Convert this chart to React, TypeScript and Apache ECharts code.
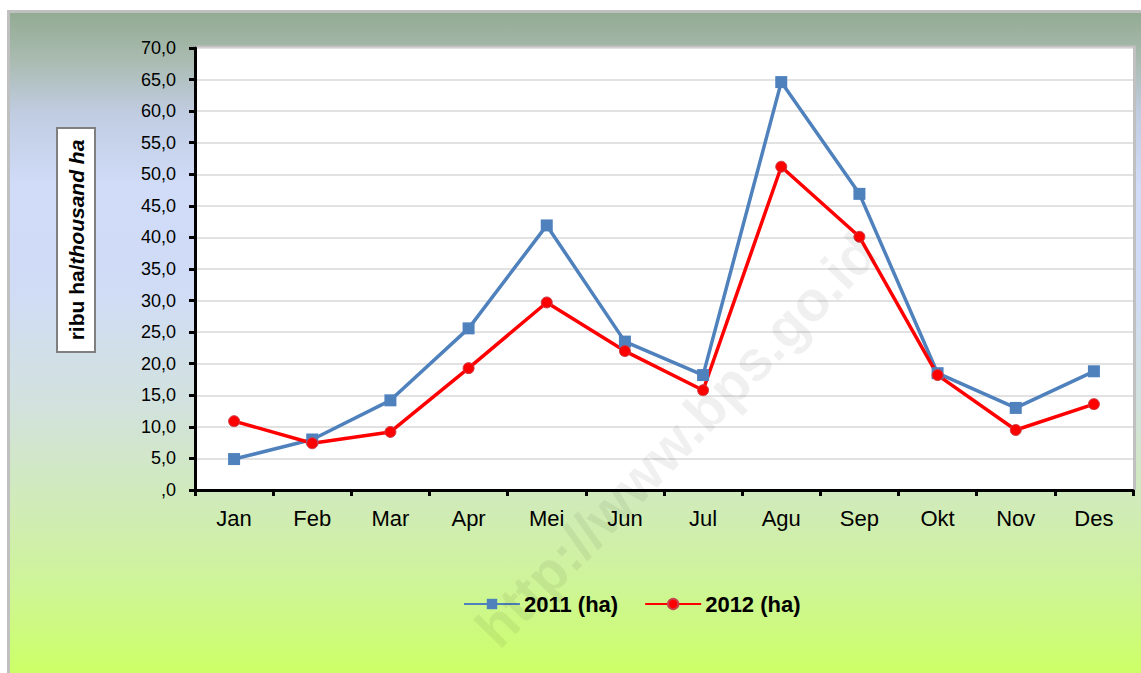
import React, { useEffect, useRef } from "react";
import * as echarts from "echarts";

const categories = ["Jan", "Feb", "Mar", "Apr", "Mei", "Jun", "Jul", "Agu", "Sep", "Okt", "Nov", "Des"];
const series2011 = [4.9, 8.0, 14.2, 25.6, 41.9, 23.5, 18.2, 64.6, 46.9, 18.5, 13.0, 18.8];
const series2012 = [10.9, 7.4, 9.2, 19.3, 29.7, 22.0, 15.8, 51.2, 40.1, 18.2, 9.5, 13.6];
const seriesNames = ["2011 (ha)", "2012 (ha)"];
const yAxisTitleA = "ribu ha/";
const yAxisTitleB = "thousand ha";
const watermark = "http://www.bps.go.id";

const FONT = "'Liberation Sans', Arial, sans-serif";

export default function App() {
  const ref = useRef<HTMLDivElement>(null);
  useEffect(() => {
    if (!ref.current) return;
    const chart = echarts.init(ref.current, undefined, { renderer: "svg" });
    chart.setOption({
      animation: false,
      backgroundColor: "transparent",
      textStyle: { fontFamily: FONT },
      grid: {
        left: 195,
        right: 8,
        top: 48,
        bottom: 183,
        show: true,
        backgroundColor: "#ffffff",
        borderWidth: 0,
      },
      legend: {
        data: seriesNames,
        left: 458,
        top: 588,
        itemWidth: 56,
        itemHeight: 13,
        itemGap: 26,
        textStyle: { fontFamily: FONT, fontSize: 22, fontWeight: "bold", color: "#000", padding: [0, 0, 0, -1] },
      },
      xAxis: {
        type: "category",
        data: categories,
        boundaryGap: true,
        axisLine: { show: true, lineStyle: { color: "#000", width: 3 } },
        axisTick: { show: true, length: 6, lineStyle: { color: "#000", width: 3 } },
        axisLabel: { fontSize: 22, color: "#000", margin: 17, fontFamily: FONT },
        splitLine: { show: false },
      },
      yAxis: {
        type: "value",
        min: 0,
        max: 70,
        interval: 5,
        axisLine: { show: true, lineStyle: { color: "#000", width: 3 } },
        axisTick: { show: true, length: 6, lineStyle: { color: "#000", width: 3 } },
        axisLabel: {
          fontSize: 18,
          color: "#000",
          margin: 19,
          fontFamily: FONT,
          formatter: (v: number) => (v === 0 ? ",0" : v.toFixed(1).replace(".", ",")),
        },
        splitLine: { show: true, lineStyle: { color: "#d9d9d9", width: 1.5 } },
      },
      graphic: [
        {
          type: "polyline",
          silent: true,
          z: -1,
          shape: { points: [[195, 47], [1134.5, 47], [1134.5, 490]] },
          style: { stroke: "#c0c0c0", lineWidth: 3, fill: null },
        },
        {
          type: "group",
          x: 76,
          y: 240,
          rotation: Math.PI / 2,
          children: [
            {
              type: "rect",
              shape: { x: -112, y: -19, width: 224, height: 38 },
              style: { fill: "#ffffff", stroke: "#7f7f7f", lineWidth: 2 },
            },
            {
              type: "text",
              x: 0,
              y: 0,
              style: {
                text: "{a|" + yAxisTitleA + "}{b|" + yAxisTitleB + "}",
                align: "center",
                verticalAlign: "middle",
                rich: {
                  a: { fontFamily: FONT, fontSize: 21, fontWeight: "bold", fill: "#000" },
                  b: { fontFamily: FONT, fontSize: 21, fontWeight: "bold", fontStyle: "italic", fill: "#000" },
                },
              },
            },
          ],
        },
        {
          type: "text",
          x: 676,
          y: 440,
          rotation: (46 * Math.PI) / 180,
          silent: true,
          z: 100,
          style: {
            text: watermark,
            align: "center",
            verticalAlign: "middle",
            fontFamily: FONT,
            fontSize: 56,
            fontWeight: "bold",
            fill: "rgba(0,0,0,0.06)",
          },
        },
      ],
      series: [
        {
          name: seriesNames[0],
          type: "line",
          data: series2011,
          symbol: "rect",
          symbolSize: 12,
          lineStyle: { color: "#4f81bd", width: 3.5 },
          itemStyle: { color: "#4f81bd" },
        },
        {
          name: seriesNames[1],
          type: "line",
          data: series2012,
          symbol: "circle",
          symbolSize: 11,
          lineStyle: { color: "#ff0000", width: 3.5 },
          itemStyle: { color: "#ff0000", borderColor: "#c8404a", borderWidth: 1 },
        },
      ],
    });
    return () => chart.dispose();
  }, []);

  return (
    <div style={{ position: "absolute", left: 0, top: 0, width: 1141, height: 673, background: "#ffffff", overflow: "hidden" }}>
      <div
        style={{
          position: "absolute",
          left: 7,
          top: 10,
          width: 1134,
          height: 663,
          boxSizing: "border-box",
          borderLeft: "3px solid #c0c0c0",
          borderTop: "3px solid #c0c0c0",
          background:
            "linear-gradient(to bottom, #93ab93 0%, #a9bbb0 7%, #c0cce0 15%, #d0dcf8 26%, #d0dcf6 42%, #d2e2dc 60%, #d0ecb4 76%, #cef49a 86%, #ccff66 100%)",
        }}
      />
      <div ref={ref} style={{ position: "absolute", left: 0, top: 0, width: 1141, height: 673 }} />
    </div>
  );
}
